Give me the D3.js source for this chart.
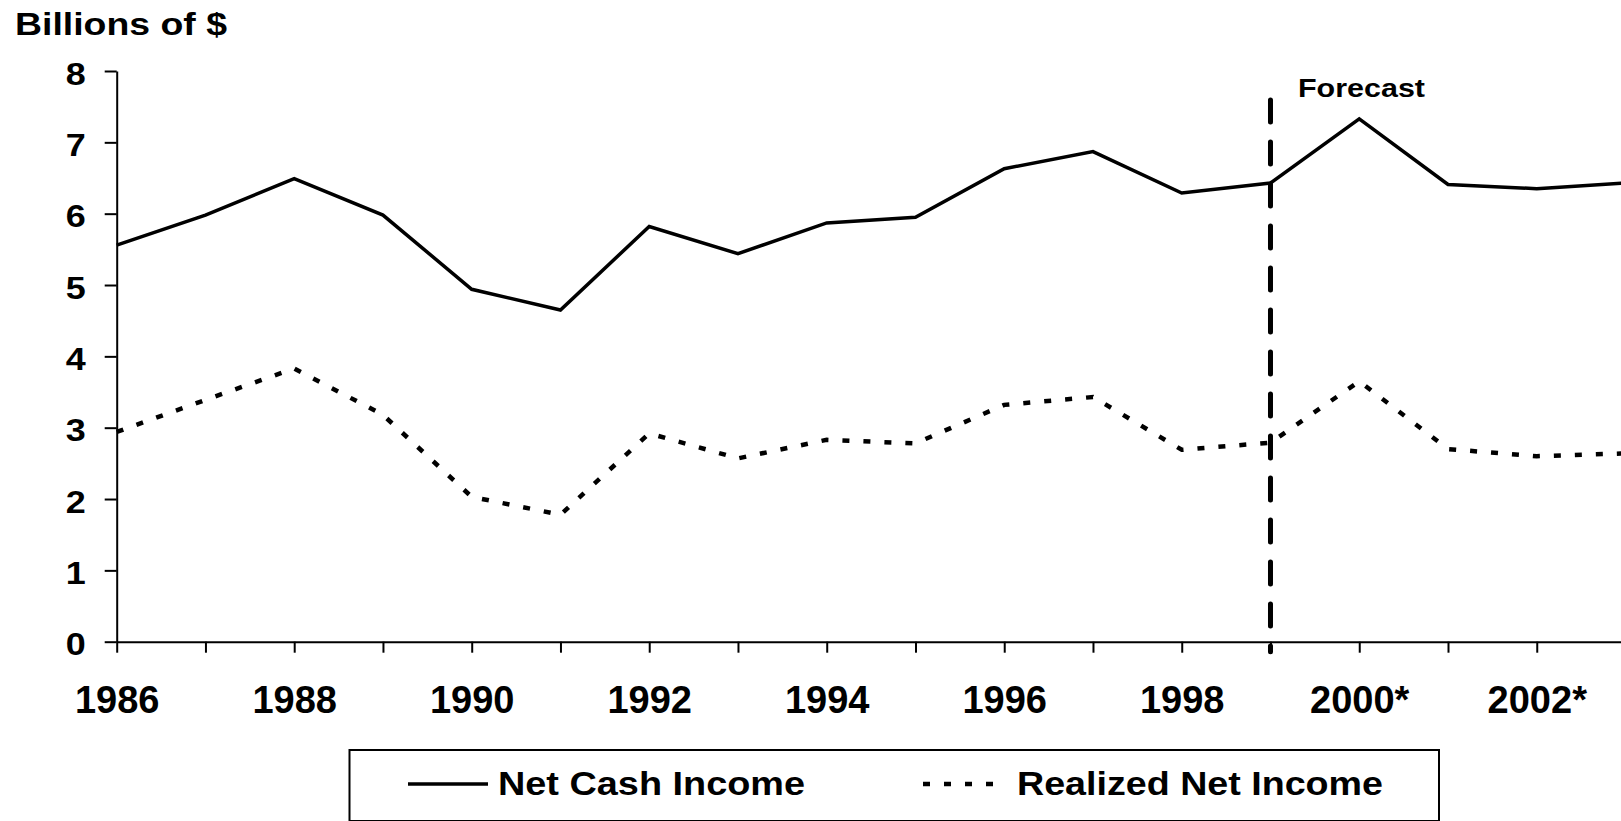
<!DOCTYPE html>
<html>
<head>
<meta charset="utf-8">
<script src="https://cdn.jsdelivr.net/npm/d3@7"></script>
<style>
  html, body { margin: 0; padding: 0; background: #fff; overflow: hidden; }
  svg { display: block; }
  text { font-family: "Liberation Sans", Arial, Helvetica, sans-serif; font-weight: bold; fill: #000; }
</style>
</head>
<body>
<svg id="chart" width="1621" height="821"></svg>
<script>
// Farm income, billions of dollars (2000 onward are forecasts)
const years = [1986, 1987, 1988, 1989, 1990, 1991, 1992, 1993, 1994, 1995,
               1996, 1997, 1998, 1999, 2000, 2001, 2002, 2003];
const netCashIncome = [5.56, 5.98, 6.49, 5.98, 4.94, 4.65, 5.82, 5.44, 5.87, 5.95,
                       6.63, 6.87, 6.29, 6.43, 7.33, 6.41, 6.35, 6.43];
const realizedNetIncome = [2.94, 3.39, 3.83, 3.18, 2.03, 1.78, 2.92, 2.57, 2.83, 2.78,
                           3.32, 3.43, 2.69, 2.79, 3.65, 2.70, 2.60, 2.64];
const yTicks = [0, 1, 2, 3, 4, 5, 6, 7, 8];
const xLabels = { 1986: "1986", 1988: "1988", 1990: "1990", 1992: "1992", 1994: "1994",
                  1996: "1996", 1998: "1998", 2000: "2000*", 2002: "2002*" };
const forecastYear = 1999;
const seriesNames = ["Net Cash Income", "Realized Net Income"];

const svg = d3.select("#chart");

const x = d3.scaleLinear().domain([1986, 2003]).range([116.7, 1625.5]);
const y = d3.scaleLinear().domain([0, 8]).range([641.7, 71]);

// Y axis
const yAxis = svg.append("g")
  .attr("transform", `translate(${x(1986)},0)`)
  .call(d3.axisLeft(y).tickValues(yTicks).tickSize(12).tickSizeOuter(0).tickPadding(19)
        .tickFormat(d3.format("d")));
yAxis.select(".domain").attr("stroke", "#000").attr("stroke-width", 2);
yAxis.selectAll(".tick line").attr("stroke", "#000").attr("stroke-width", 2);
yAxis.selectAll(".tick text")
  .attr("dy", 13)
  .attr("font-size", 31)
  .attr("textLength", 20)
  .attr("lengthAdjust", "spacingAndGlyphs");

// X axis: a tick every year, labels on even years
const xAxis = svg.append("g")
  .attr("transform", `translate(0,${y(0)})`)
  .call(d3.axisBottom(x).tickValues(years).tickSize(11).tickSizeOuter(0)
        .tickFormat(d => xLabels[d] || ""));
xAxis.select(".domain").attr("stroke", "#000").attr("stroke-width", 2);
xAxis.selectAll(".tick line").attr("stroke", "#000").attr("stroke-width", 2);
xAxis.selectAll(".tick text")
  .attr("y", 71)
  .attr("dy", 0)
  .attr("font-size", 38);

// Y axis title
svg.append("text")
  .attr("x", 15).attr("y", 35)
  .attr("font-size", 32)
  .attr("textLength", 212).attr("lengthAdjust", "spacingAndGlyphs")
  .text("Billions of $");

const line = d3.line().x((d, i) => x(years[i])).y(d => y(d));

// Net cash income: solid
svg.append("path")
  .datum(netCashIncome)
  .attr("d", line)
  .attr("fill", "none")
  .attr("stroke", "#000")
  .attr("stroke-width", 3.5)
  .attr("stroke-linejoin", "miter");

// Realized net income: dotted
svg.append("path")
  .datum(realizedNetIncome)
  .attr("d", line)
  .attr("fill", "none")
  .attr("stroke", "#000")
  .attr("stroke-width", 4.5)
  .attr("stroke-dasharray", "7,14");

// Forecast divider
svg.append("line")
  .attr("x1", x(forecastYear)).attr("x2", x(forecastYear))
  .attr("y1", 100).attr("y2", y(0) + 10)
  .attr("stroke", "#000")
  .attr("stroke-width", 5)
  .attr("stroke-linecap", "round")
  .attr("stroke-dasharray", "22,20");

svg.append("text")
  .attr("x", 1298).attr("y", 97)
  .attr("font-size", 26.5)
  .attr("textLength", 127).attr("lengthAdjust", "spacingAndGlyphs")
  .text("Forecast");

// Legend
const legend = svg.append("g");
legend.append("rect")
  .attr("x", 349.5).attr("y", 750)
  .attr("width", 1089.5).attr("height", 71)
  .attr("fill", "#fff")
  .attr("stroke", "#000")
  .attr("stroke-width", 2);

const legendItems = [
  { name: seriesNames[0], x1: 408, x2: 488, tx: 498, tw: 307, dash: null, sw: 3.5 },
  { name: seriesNames[1], x1: 923, x2: 1005, tx: 1017, tw: 366, dash: "7,14", sw: 4.5 }
];
legendItems.forEach(it => {
  const l = legend.append("line")
    .attr("x1", it.x1).attr("x2", it.x2)
    .attr("y1", 784).attr("y2", 784)
    .attr("stroke", "#000")
    .attr("stroke-width", it.sw);
  if (it.dash) l.attr("stroke-dasharray", it.dash);
  legend.append("text")
    .attr("x", it.tx).attr("y", 795)
    .attr("font-size", 33)
    .attr("textLength", it.tw).attr("lengthAdjust", "spacingAndGlyphs")
    .text(it.name);
});
</script>
</body>
</html>
